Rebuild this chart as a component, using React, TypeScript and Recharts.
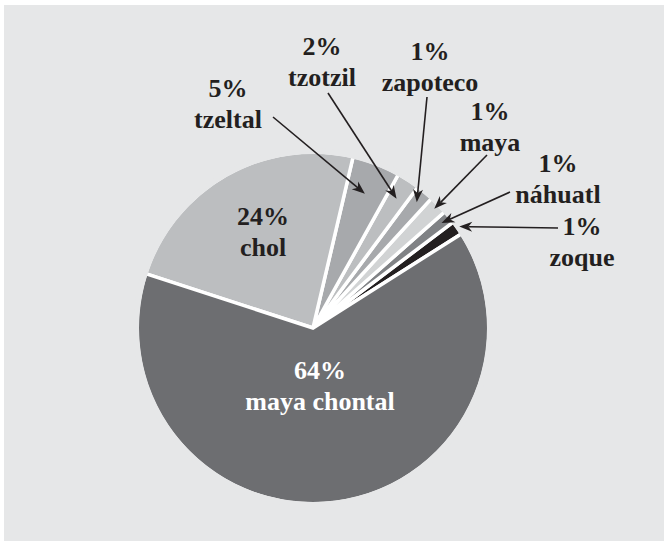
import { Pie, PieChart } from "recharts";

// slices in drawing order, counter-clockwise from the zoque wedge
const languages = ["zoque", "náhuatl", "maya", "zapoteco", "tzotzil", "tzeltal", "chol", "maya chontal"];
const shares = [1.3, 1.2, 1.7, 1.6, 2.1, 4.4, 23.6, 63.8];
const pctLabels = ["1%", "1%", "1%", "1%", "2%", "5%", "24%", "64%"];

const fills = ["#231f20", "#808285", "#d1d3d4", "#a7a9ac", "#bcbec0", "#a7a9ac", "#bcbec0", "#6d6e71"];
const BG = "#e6e7e8";
const INK = "#231f20";
const RAD = Math.PI / 180;

// label placement relative to the pie centre; tipR = radius the arrow points at
const callouts: { tx: number; ty: number; ax?: number; ay?: number; tipR?: number; color?: string }[] = [
  { tx: 269, ty: -93, ax: 245, ay: -100, tipR: 178 },
  { tx: 245, ty: -156, ax: 197, ay: -136, tipR: 166 },
  { tx: 177, ty: -208, ax: 174, ay: -173, tipR: 170 },
  { tx: 117, ty: -268, ax: 114, ay: -231, tipR: 163 },
  { tx: 9, ty: -273, ax: 15, ay: -235, tipR: 154 },
  { tx: -85, ty: -231, ax: -40, ay: -211, tipR: 144 },
  { tx: -50, ty: -103 },
  { tx: 7, ty: 51, color: "#ffffff" },
];

const data = languages.map((name, i) => ({ name, share: shares[i], fill: fills[i] }));
const ring = [{ name: "rim", share: 1 }];

function Callout(props: any) {
  const { cx, cy, midAngle, index } = props;
  const c = callouts[index];
  if (!c) return null;
  const color = c.color ?? INK;
  const textStyle = { fontFamily: "'Liberation Serif', 'Times New Roman', serif", fontWeight: 700, fontSize: 26 };
  let arrow = null;
  if (c.tipR !== undefined && c.ax !== undefined && c.ay !== undefined) {
    const tx = cx + c.tipR * Math.cos(midAngle * RAD);
    const ty = cy - c.tipR * Math.sin(midAngle * RAD);
    const sx = cx + c.ax;
    const sy = cy + c.ay;
    const len = Math.hypot(tx - sx, ty - sy);
    const ux = (tx - sx) / len;
    const uy = (ty - sy) / len;
    const L = 13;
    const W = 5;
    const bx = tx - ux * L;
    const by = ty - uy * L;
    const nx = tx - ux * L * 0.7;
    const ny = ty - uy * L * 0.7;
    const pts = `${tx},${ty} ${bx - uy * W},${by + ux * W} ${nx},${ny} ${bx + uy * W},${by - ux * W}`;
    arrow = (
      <g>
        <line x1={sx} y1={sy} x2={nx} y2={ny} stroke={INK} strokeWidth={1.6} />
        <polygon points={pts} fill={INK} />
      </g>
    );
  }
  return (
    <g>
      {arrow}
      <text x={cx + c.tx} y={cy + c.ty} textAnchor="middle" fill={color} style={textStyle}>
        {pctLabels[index]}
      </text>
      <text x={cx + c.tx} y={cy + c.ty + 31} textAnchor="middle" fill={color} style={textStyle}>
        {languages[index]}
      </text>
    </g>
  );
}

export default function App() {
  const cx = 309;
  const cy = 323;
  return (
    <div style={{ position: "fixed", left: 0, top: 0, width: 664, height: 541, background: "#ffffff" }}>
      <div style={{ position: "absolute", left: 4, top: 5, width: 660, height: 536, background: BG }}>
        <PieChart width={660} height={536} margin={{ top: 0, right: 0, bottom: 0, left: 0 }}>
          <Pie
            data={data}
            dataKey="share"
            nameKey="name"
            cx={cx}
            cy={cy}
            outerRadius={176}
            startAngle={32.4}
            endAngle={392.4}
            stroke="#ffffff"
            strokeWidth={3.5}
            isAnimationActive={false}
            labelLine={false}
          />
          <Pie
            data={ring}
            dataKey="share"
            cx={cx}
            cy={cy}
            innerRadius={174}
            outerRadius={180}
            fill={BG}
            stroke="none"
            isAnimationActive={false}
            labelLine={false}
          />
          <Pie
            data={data}
            dataKey="share"
            nameKey="name"
            cx={cx}
            cy={cy}
            outerRadius={176}
            startAngle={32.4}
            endAngle={392.4}
            fillOpacity={0}
            stroke="none"
            isAnimationActive={false}
            labelLine={false}
            label={Callout}
          />
        </PieChart>
      </div>
    </div>
  );
}
